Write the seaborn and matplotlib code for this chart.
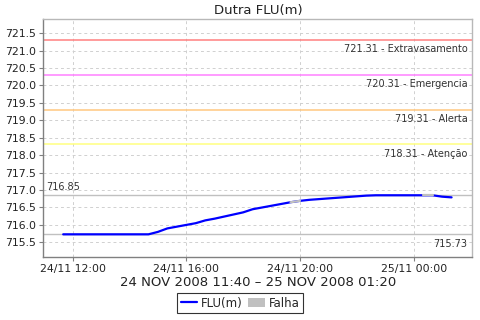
import matplotlib
matplotlib.use("Agg")
import matplotlib.pyplot as plt
import matplotlib.dates as mdates
import seaborn as sns
import pandas as pd
import numpy as np
from matplotlib.lines import Line2D
from matplotlib.patches import Patch

title = "Dutra FLU(m)"
xlabel = "24 NOV 2008 11:40 \u2013 25 NOV 2008 01:20"
series_name = "FLU(m)"
fail_name = "Falha"

times = pd.date_range("2008-11-24 11:40", "2008-11-25 01:20", freq="20min")
values = [715.73, 715.73, 715.73, 715.73, 715.73, 715.73, 715.73, 715.73, 715.73, 715.73,
          715.80, 715.90, 715.95, 716.00, 716.05, 716.13, 716.18, 716.24, 716.30, 716.36,
          716.45, 716.50, 716.55, 716.60, 716.65, 716.69, 716.72, 716.74, 716.76, 716.78,
          716.80, 716.82, 716.84, 716.85, 716.85, 716.85, 716.85, 716.85, 716.85, 716.85,
          716.81, 716.79]
fail_idx = [24, 38]

levels = [721.31, 720.31, 719.31, 718.31]
level_names = ["Extravasamento", "Emergencia", "Alerta", "Aten\u00e7\u00e3o"]
level_colors = ["#ff8080", "#ff80ff", "#ffc880", "#ffff80"]
max_val = 716.85
min_val = 715.73

df = pd.DataFrame({"time": times, "value": values})

sns.set_theme(style="white")
plt.rcParams['font.family'] = ['DejaVu Sans']

fig = plt.figure(figsize=(4.8, 3.2), dpi=100)
ax = fig.add_axes([0.0902, 0.198, 0.894, 0.742])

sns.lineplot(data=df, x="time", y="value", ax=ax, color="#0000ff", linewidth=1.6)
for i in fail_idx:
    ax.plot(df["time"].iloc[i:i + 2], df["value"].iloc[i:i + 2], color="#c0c0c0", linewidth=1.6)

for lv, nm, c in zip(levels, level_names, level_colors):
    ax.axhline(lv, color=c, linewidth=1.1, zorder=1)
    ax.text(0.988, lv - 0.12, f"{lv:.2f} - {nm}", transform=ax.get_yaxis_transform(),
            ha="right", va="top", fontsize=7, color="#333333")

ax.axhline(max_val, color="#c0c0c0", linewidth=1.0, zorder=1)
ax.axhline(min_val, color="#c0c0c0", linewidth=1.0, zorder=1)
ax.text(0.006, max_val + 0.08, f"{max_val:.2f}", transform=ax.get_yaxis_transform(),
        ha="left", va="bottom", fontsize=7, color="#333333")
ax.text(0.988, min_val - 0.12, f"{min_val:.2f}", transform=ax.get_yaxis_transform(),
        ha="right", va="top", fontsize=7, color="#333333")

ax.set_ylim(715.09, 721.90)
ax.set_xlim(pd.Timestamp("2008-11-24 10:58"), pd.Timestamp("2008-11-25 02:04"))
ax.set_yticks(np.arange(715.5, 721.6, 0.5))
ax.yaxis.set_major_formatter(matplotlib.ticker.FormatStrFormatter("%.1f"))
ax.xaxis.set_major_locator(mdates.HourLocator(byhour=[0, 4, 8, 12, 16, 20]))
ax.xaxis.set_major_formatter(mdates.DateFormatter("%d/%m %H:%M"))

ax.grid(True, color="#d0d0d0", linestyle=(0, (3, 3)), linewidth=0.7)
ax.tick_params(axis="both", labelsize=7.8, length=3, width=0.8, colors="#808080",
               labelcolor="#222222", pad=2)
ax.tick_params(axis="both", which="major", left=True, bottom=True)
for s in ["left", "bottom"]:
    ax.spines[s].set_color("#808080")
    ax.spines[s].set_linewidth(1.0)
for s in ["top", "right"]:
    ax.spines[s].set_color("#b8b8b8")
    ax.spines[s].set_linewidth(1.0)

ax.set_title(title, fontsize=9.5, pad=4, color="#222222")
ax.set_xlabel(xlabel, fontsize=9.5, labelpad=2, color="#222222")
ax.set_ylabel("")

handles = [Line2D([0], [0], color="#0000ff", linewidth=1.6),
           Patch(facecolor="#c0c0c0", edgecolor="none")]
leg = fig.legend(handles, [series_name, fail_name], loc="center", bbox_to_anchor=(0.5, 0.053),
                 ncol=2, fontsize=8.5, frameon=True, fancybox=False, handlelength=1.4,
                 handletextpad=0.3, columnspacing=0.5, borderpad=0.3, handleheight=0.7)
leg.get_frame().set_edgecolor("#000000")
leg.get_frame().set_linewidth(0.8)

fig.savefig("out.png", dpi=100)
